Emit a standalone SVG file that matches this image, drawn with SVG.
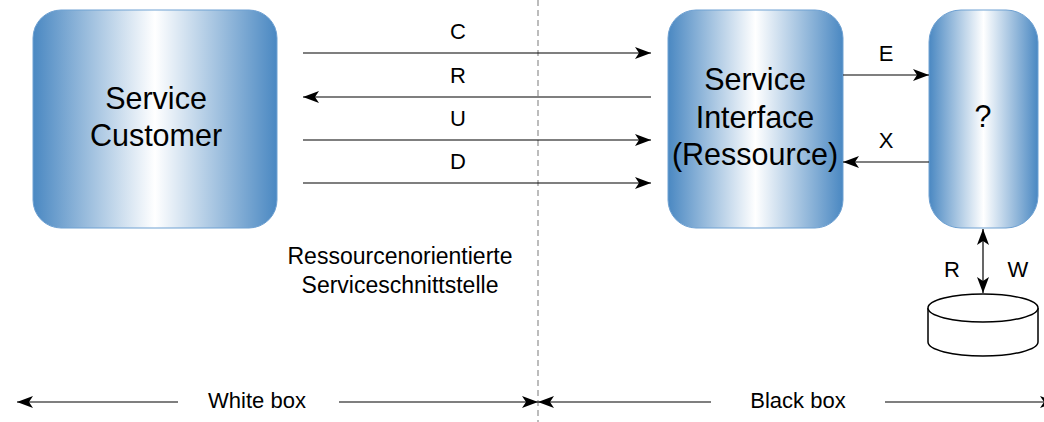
<svg xmlns="http://www.w3.org/2000/svg" width="1044" height="422" viewBox="0 0 1044 422">
<defs>
<linearGradient id="g" x1="0" y1="0" x2="1" y2="0">
<stop offset="0" stop-color="#4a88c2"/>
<stop offset="0.5" stop-color="#ffffff"/>
<stop offset="1" stop-color="#4a88c2"/>
</linearGradient>
<marker id="b" viewBox="0 0 16 12" refX="16" refY="6" markerWidth="16" markerHeight="12" markerUnits="userSpaceOnUse" orient="auto-start-reverse">
<path d="M0,0 L16,6 L0,12 L4,6 Z" fill="#000"/>
</marker>
</defs>
<style>
.box{fill:url(#g);stroke:#6fa1d2;stroke-width:1}
.big{font-family:"Liberation Sans",Arial,sans-serif;font-size:30.5px;fill:#000;text-anchor:middle}
.lbl{font-family:"Liberation Sans",Arial,sans-serif;font-size:22px;fill:#000;text-anchor:middle}
.sm{font-family:"Liberation Sans",Arial,sans-serif;font-size:23px;fill:#000;text-anchor:middle}
.ln{stroke:#000;stroke-width:1.2;fill:none}
</style>
<line x1="538" y1="0" x2="538" y2="422" stroke="#999" stroke-width="1.3" stroke-dasharray="6,4"/>
<g id="customer">
<rect class="box" x="33" y="10" width="244" height="218" rx="28" ry="28"/>
<text class="big" x="156" y="109">Service</text>
<text class="big" x="156" y="146">Customer</text>
</g>
<g id="interface">
<rect class="box" x="668" y="10" width="175" height="218" rx="28" ry="28"/>
<text class="big" x="755" y="90">Service</text>
<text class="big" x="755" y="128">Interface</text>
<text class="big" x="755" y="165">(Ressource)</text>
</g>
<g id="unknown">
<rect class="box" x="929" y="10" width="109" height="218" rx="32" ry="32"/>
<text class="big" x="983" y="127">?</text>
</g>
<g id="db">
<path d="M928,308 L928,342 A55,14 0 0 0 1038,342 L1038,308" fill="#fff" stroke="#000" stroke-width="1.5"/>
<ellipse cx="983" cy="308" rx="55" ry="14" fill="#fff" stroke="#000" stroke-width="1.5"/>
</g>
<g id="connectors">
<line class="ln" x1="303" y1="53" x2="651" y2="53" marker-end="url(#b)"/>
<line class="ln" x1="651" y1="97" x2="303" y2="97" marker-end="url(#b)"/>
<line class="ln" x1="303" y1="140" x2="651" y2="140" marker-end="url(#b)"/>
<line class="ln" x1="303" y1="183" x2="651" y2="183" marker-end="url(#b)"/>
<line class="ln" x1="843" y1="75" x2="929" y2="75" marker-end="url(#b)"/>
<line class="ln" x1="929" y1="162" x2="843" y2="162" marker-end="url(#b)"/>
<line class="ln" x1="983" y1="229" x2="983" y2="293" marker-start="url(#b)" marker-end="url(#b)"/>
<line class="ln" x1="178" y1="402" x2="17" y2="402" marker-end="url(#b)"/>
<line class="ln" x1="339" y1="402" x2="538" y2="402" marker-end="url(#b)"/>
<line class="ln" x1="711" y1="402" x2="538" y2="402" marker-end="url(#b)"/>
<line class="ln" x1="885" y1="402" x2="1056" y2="402" marker-end="url(#b)"/>
</g>
<g id="labels">
<text class="lbl" x="458" y="39">C</text>
<text class="lbl" x="458" y="83">R</text>
<text class="lbl" x="458" y="126">U</text>
<text class="lbl" x="458" y="169">D</text>
<text class="lbl" x="886" y="61">E</text>
<text class="lbl" x="886" y="148">X</text>
<text class="lbl" x="952" y="277">R</text>
<text class="lbl" x="1018" y="277">W</text>
<text class="sm" x="400" y="264">Ressourcenorientierte</text>
<text class="sm" x="400" y="293">Serviceschnittstelle</text>
<text class="lbl" x="257" y="408">White box</text>
<text class="lbl" x="798" y="408">Black box</text>
</g>
</svg>
